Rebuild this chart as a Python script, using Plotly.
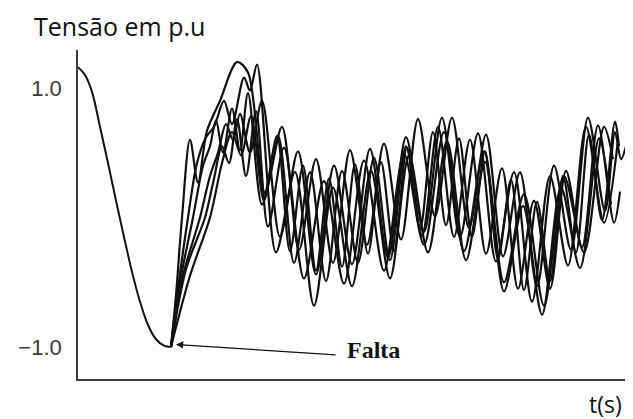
import plotly.graph_objects as go

# Pre-fault waveform (common to all cases)
t_pre = [0, 7, 14, 22, 30, 38, 46, 54, 62, 70, 78, 86, 93]
v_pre = [1.16, 1.10, 0.97, 0.70, 0.42, 0.13, -0.15, -0.42, -0.65, -0.83, -0.94, -0.99, -1.0]

# Post-fault waveforms (several cases)
t_c1 = [93, 98, 104, 112, 120, 129, 142, 159, 170, 187, 204, 221, 238, 255, 272, 289, 306, 323, 340, 357,
        374, 391, 408, 425, 442, 459, 476, 493, 510, 527, 537, 543, 549]
v_c1 = [-1.0, -0.6, 0.0, 0.6, 0.27, 0.67, 0.9, 1.2, 1.12, 0.19, 0.70, -0.25, 0.45, -0.35, 0.52, -0.21, 0.57, -0.17, 0.76, 0.01,
        0.77, -0.08, 0.64, -0.30, 0.35, -0.53, 0.40, -0.25, 0.77, 0.05, 0.66, 0.45, 0.58]

t_c2 = [93, 100, 110, 119, 128, 136, 146, 154, 166, 172, 179, 198, 217, 236, 255, 274, 293, 312, 331, 350,
        369, 388, 407, 426, 445, 464, 483, 502, 521, 533]
v_c2 = [-1.0, -0.55, 0.0, 0.42, 0.62, 0.7, 0.9, 0.72, 1.08, 0.98, 1.18, -0.27, 0.35, -0.68, 0.23, -0.53, 0.36, -0.47, 0.48, -0.27,
        0.59, -0.33, 0.43, -0.57, 0.09, -0.75, 0.23, -0.39, 0.61, 0.1]

t_c3 = [93, 102, 115, 125, 132, 138, 145, 154, 162, 170, 184, 200, 216, 232, 248, 264, 280, 296, 312, 328,
        344, 360, 376, 392, 408, 424, 440, 456, 472, 488, 504, 520, 536, 542]
v_c3 = [-1.0, -0.5, 0.0, 0.4, 0.55, 0.75, 0.5, 0.84, 0.52, 0.96, 0.10, 0.63, -0.35, 0.35, -0.49, 0.36, -0.35, 0.46, -0.33, 0.55,
        -0.14, 0.70, -0.15, 0.60, -0.28, 0.38, -0.55, 0.13, -0.55, 0.36, -0.23, 0.71, -0.04, 0.2]

t_c4 = [93, 105, 122, 132, 140, 148, 155, 162, 172, 184, 202, 220, 238, 256, 274, 292, 310, 328, 346, 364,
        382, 400, 418, 436, 454, 472, 490, 508, 526, 540]
v_c4 = [-1.0, -0.45, 0.0, 0.32, 0.5, 0.72, 0.6, 0.8, 0.5, 0.9, -0.15, 0.51, -0.44, 0.40, -0.36, 0.53, -0.31, 0.62, -0.11, 0.77,
        -0.15, 0.65, -0.34, 0.35, -0.65, 0.32, -0.37, 0.70, -0.04, 0.6]

t_c5 = [93, 108, 127, 136, 144, 151, 159, 168, 178, 190, 206, 226, 246, 266, 286, 306, 326, 346, 366, 386,
        406, 426, 446, 466, 486, 506, 526, 535]
v_c5 = [-1.0, -0.4, 0.0, 0.3, 0.55, 0.42, 0.76, 0.32, 0.82, -0.07, 0.54, -0.47, 0.28, -0.51, 0.44, -0.41, 0.49, -0.21, 0.66, -0.26,
        0.51, -0.50, 0.18, -0.68, 0.32, -0.27, 0.70, 0.45]

t_c6 = [93, 112, 132, 144, 154, 163, 173, 186, 199, 212, 225, 238, 251, 264, 277, 290, 303, 316, 329, 342,
        355, 368, 381, 394, 407, 420, 433, 446, 459, 472, 485, 498, 511, 524, 537, 541]
v_c6 = [-1.0, -0.45, 0.0, 0.42, 0.66, 0.48, 0.78, 0.13, 0.63, -0.26, 0.40, -0.41, 0.30, -0.38, 0.41, -0.28, 0.43, -0.26, 0.54, -0.09,
        0.66, -0.06, 0.61, -0.15, 0.51, -0.32, 0.29, -0.56, 0.12, -0.49, 0.32, -0.27, 0.64, -0.02, 0.74, 0.55]

tick_vals = [1.0, -1.0]
tick_text = ["1.0", "\u22121.0"]

fault_t = 93
fault_v = -1.0

fig = go.Figure()
fig.add_trace(go.Scatter(x=t_pre, y=v_pre, mode="lines",
                         line=dict(color="#111111", width=2, shape="spline", smoothing=1.0),
                         hoverinfo="skip", showlegend=False))
for tt, vv in [(t_c1, v_c1), (t_c2, v_c2), (t_c3, v_c3), (t_c4, v_c4), (t_c5, v_c5), (t_c6, v_c6)]:
    fig.add_trace(go.Scatter(x=tt, y=vv, mode="lines",
                             line=dict(color="#111111", width=2.2, shape="spline", smoothing=0.9),
                             hoverinfo="skip", showlegend=False))

fig.update_layout(
    width=625, height=411,
    margin=dict(l=70, r=8, t=42, b=40),
    paper_bgcolor="white", plot_bgcolor="white",
    xaxis=dict(range=[0, 547], showgrid=False, zeroline=False, showticklabels=False,
               ticks="", showline=True, linecolor="#3c3c3c", linewidth=1.6, fixedrange=True),
    yaxis=dict(range=[-1.247, 1.293], showgrid=False, zeroline=False,
               tickvals=tick_vals, ticktext=tick_text, ticks="",
               ticklabelstandoff=10,
               tickfont=dict(family="Liberation Sans, Arial, sans-serif", size=22, color="#3a3a3a"),
               showline=True, linecolor="#3c3c3c", linewidth=1.6, fixedrange=True),
    font=dict(family="Open Sans, sans-serif", color="#111111"),
    annotations=[
        dict(text="Tensão em p.u", xref="paper", yref="paper", x=-0.0841, y=1.073,
             xanchor="left", yanchor="middle", showarrow=False,
             font=dict(family="Open Sans, sans-serif", size=25, color="#111111")),
        dict(text="t(s)", xref="paper", yref="paper", x=0.996, y=-0.076,
             xanchor="right", yanchor="middle", showarrow=False, borderpad=0,
             font=dict(family="Open Sans, sans-serif", size=23, color="#111111")),
        dict(text="<b>Falta</b>", xref="x", yref="y", x=267, y=-1.023,
             xanchor="left", yanchor="middle", showarrow=False,
             font=dict(family="Liberation Serif, Times New Roman, serif", size=24, color="#111111")),
        dict(text="", xref="x", yref="y", x=fault_t + 5, y=fault_v + 0.02,
             axref="x", ayref="y", ax=259, ay=-1.062,
             showarrow=True, arrowhead=2, arrowsize=1.1, arrowwidth=1.3, arrowcolor="#111111"),
    ],
)

fig.write_html("out.html")
